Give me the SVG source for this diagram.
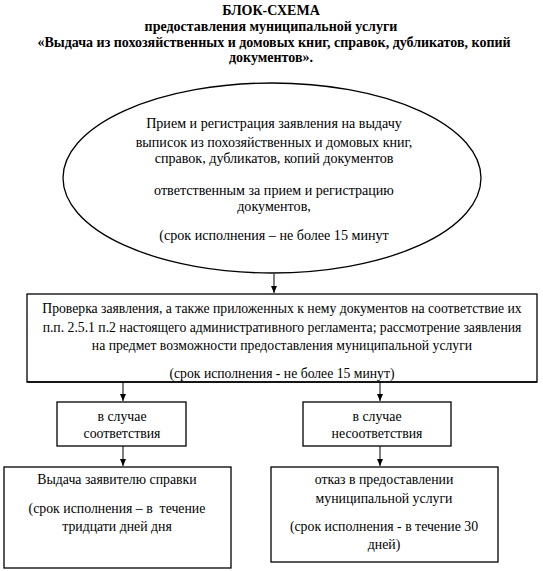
<svg xmlns="http://www.w3.org/2000/svg" width="543" height="571" viewBox="0 0 543 571">
<style>
text{font-family:"Liberation Serif","Times New Roman",serif;font-size:13.8px;fill:#000;text-anchor:middle}
.b{font-weight:bold;font-size:14px}
.e{font-size:14.1px}
.r{font-size:13.7px}
.s{fill:#fff;stroke:#000;stroke-width:1.3}
.c{stroke:#000;stroke-width:1;fill:none}
</style>
<defs>
<marker id="a" markerWidth="8" markerHeight="8" refX="7" refY="4" orient="auto" markerUnits="userSpaceOnUse">
<path d="M0,1 L7,4 L0,7 Z" fill="#000"/>
</marker>
</defs>
<g id="title">
<text class="b" x="271" y="15">БЛОК-СХЕМА</text>
<text class="b" x="271" y="30.7">предоставления муниципальной услуги</text>
<text class="b" x="274" y="46.7">«Выдача из похозяйственных и домовых книг, справок, дубликатов, копий</text>
<text class="b" x="271" y="61.7">документов».</text>
</g>
<g id="connectors">
<line class="c" x1="274" y1="274" x2="274" y2="293" marker-end="url(#a)"/>
<line class="c" x1="123" y1="382" x2="123" y2="401" marker-end="url(#a)"/>
<line class="c" x1="380" y1="382" x2="380" y2="401" marker-end="url(#a)"/>
<line class="c" x1="123" y1="446" x2="123" y2="466" marker-end="url(#a)"/>
<line class="c" x1="380" y1="446" x2="380" y2="466" marker-end="url(#a)"/>
</g>
<g id="reception">
<ellipse class="s" cx="272" cy="178" rx="209" ry="95"/>
<text class="e" x="274" y="128.3">Прием и регистрация заявления на выдачу</text>
<text class="e" x="274" y="146.7">выписок из похозяйственных и домовых книг,</text>
<text class="e" x="274" y="163.3">справок, дубликатов, копий документов</text>
<text class="e" x="274" y="195">ответственным за прием и регистрацию</text>
<text class="e" x="274" y="210.7">документов,</text>
<text class="e" x="274" y="240">(срок исполнения – не более 15 минут</text>
</g>
<g id="check">
<rect class="s" x="27" y="294" width="510" height="88"/>
<text class="r" x="282" y="313.3">Проверка заявления, а также приложенных к нему документов на соответствие их</text>
<text class="r" x="282" y="331.7">п.п. 2.5.1 п.2 настоящего административного регламента; рассмотрение заявления</text>
<text class="r" x="282" y="350">на предмет возможности предоставления муниципальной услуги</text>
<text class="r" x="282" y="378">(срок исполнения - не более 15 минут)</text>
<line x1="27" y1="382" x2="537" y2="382" stroke="#000" stroke-width="1.3"/>
</g>
<g id="match">
<rect class="s" x="57" y="402" width="129" height="44"/>
<text x="122" y="421">в случае</text>
<text x="122" y="438.3">соответствия</text>
</g>
<g id="mismatch">
<rect class="s" x="303" y="402" width="148" height="44"/>
<text x="377" y="421">в случае</text>
<text x="377" y="438.3">несоответствия</text>
</g>
<g id="issue">
<rect class="s" x="4" y="467" width="227" height="101"/>
<text x="117" y="484.3">Выдача заявителю справки</text>
<text x="117" y="513.3" xml:space="preserve">(срок исполнения – в  течение</text>
<text x="117" y="531">тридцати дней дня</text>
</g>
<g id="refusal">
<rect class="s" x="271" y="467" width="227" height="95"/>
<text x="384" y="484.3">отказ в предоставлении</text>
<text x="384" y="502.7">муниципальной услуги</text>
<text x="384" y="531">(срок исполнения - в течение 30</text>
<text x="384" y="549">дней)</text>
</g>
</svg>
